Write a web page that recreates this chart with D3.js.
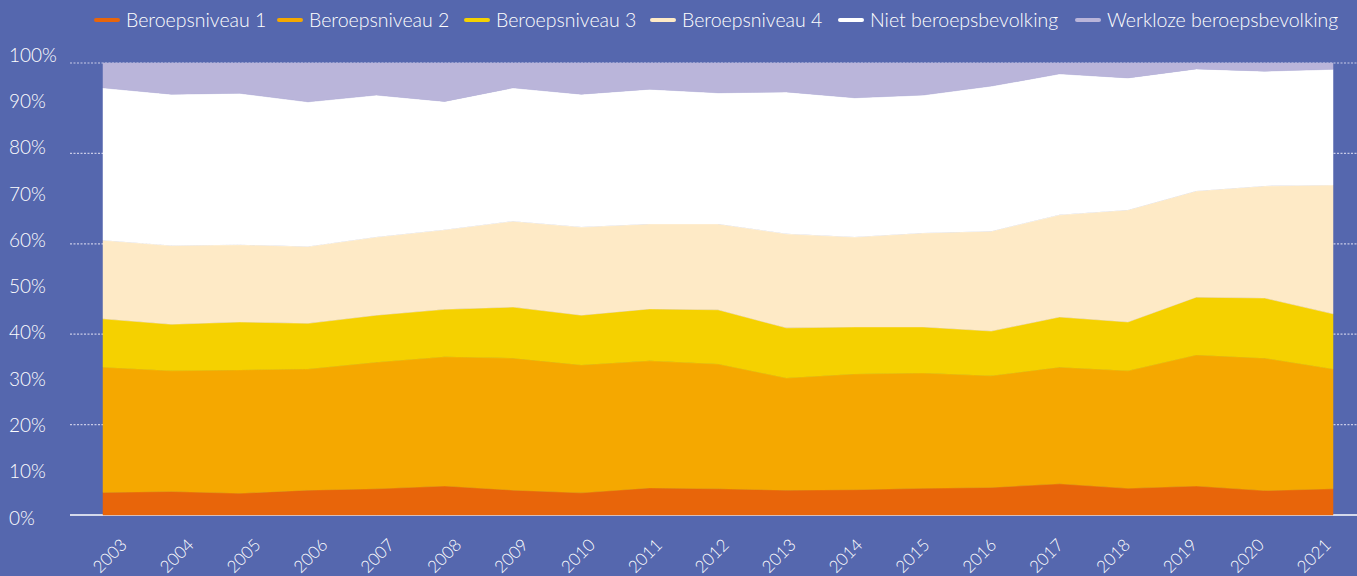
<!DOCTYPE html>
<html>
<head>
<meta charset="utf-8">
<script src="https://cdn.jsdelivr.net/npm/d3@7"></script>
<style>
  html, body { margin: 0; padding: 0; background: #5567ae; }
  svg { display: block; }
  text { font-family: Lato, "Noto Sans", sans-serif; font-weight: 300; fill: #fff; }
</style>
</head>
<body>
<script>
var years = [2003, 2004, 2005, 2006, 2007, 2008, 2009, 2010, 2011, 2012, 2013, 2014, 2015, 2016, 2017, 2018, 2019, 2020, 2021];

var seriesNames = ['Beroepsniveau 1', 'Beroepsniveau 2', 'Beroepsniveau 3', 'Beroepsniveau 4', 'Niet beroepsbevolking', 'Werkloze beroepsbevolking'];
var seriesColors = ['#e8650a', '#f5a800', '#f5d100', '#feeac6', '#ffffff', '#bab5da'];

var niveau1 = [5.0, 5.2, 4.8, 5.5, 5.8, 6.4, 5.5, 4.9, 6.0, 5.8, 5.5, 5.6, 5.9, 6.1, 6.9, 5.9, 6.4, 5.4, 5.8];
var niveau2 = [27.7, 26.7, 27.3, 26.8, 28.0, 28.6, 29.2, 28.3, 28.1, 27.6, 24.8, 25.6, 25.5, 24.7, 25.8, 26.0, 29.0, 29.3, 26.5];
var niveau3 = [10.7, 10.3, 10.6, 10.1, 10.4, 10.5, 11.3, 11.0, 11.5, 12.0, 11.1, 10.4, 10.2, 9.9, 11.1, 10.8, 12.8, 13.3, 12.2];
var niveau4 = [17.4, 17.4, 17.1, 17.0, 17.3, 17.6, 19.0, 19.5, 18.8, 19.0, 20.8, 19.9, 20.8, 22.1, 22.6, 24.8, 23.5, 24.8, 28.5];
var nietBeroeps = [33.7, 33.5, 33.5, 32.0, 31.4, 28.4, 29.5, 29.4, 29.8, 29.0, 31.4, 30.8, 30.5, 32.1, 31.2, 29.2, 27.0, 25.4, 25.6];
var werkloos = [5.5, 6.9, 6.7, 8.6, 7.1, 8.5, 5.5, 6.9, 5.8, 6.6, 6.4, 7.7, 7.1, 5.1, 2.4, 3.3, 1.3, 1.8, 1.4];

var yTicks = [0, 10, 20, 30, 40, 50, 60, 70, 80, 90, 100];
var gridTicks = [20, 40, 60, 80, 100];

var allSeries = [niveau1, niveau2, niveau3, niveau4, nietBeroeps, werkloos];
var table = years.map(function (y, i) {
	var row = { year: y };
	seriesNames.forEach(function (n, k) { row[n] = allSeries[k][i]; });
	return row;
});

var width = 1357, height = 576;
var svg = d3.select('body').append('svg').attr('width', width).attr('height', height);

var x = d3.scaleLinear().domain([2003, 2021]).range([103, 1333]);
var y = d3.scaleLinear().domain([0, 100]).range([515, 63]);
// year labels are spread a bit tighter than the data points
var xLabel = d3.scaleLinear().domain([2003, 2021]).range([128, 1332]);

// gridlines
svg.append('g').selectAll('line').data(gridTicks).enter().append('line')
	.attr('x1', 70).attr('x2', width)
	.attr('y1', function (d) { return y(d); }).attr('y2', function (d) { return y(d); })
	.attr('stroke', '#c9cbe8').attr('stroke-width', 1.2).attr('stroke-dasharray', '2,1.5');

svg.append('line')
	.attr('x1', 70).attr('x2', width).attr('y1', y(0)).attr('y2', y(0))
	.attr('stroke', '#fff').attr('stroke-width', 1.5);

var stack = d3.stack().keys(seriesNames);
var layers = stack(table);

var area = d3.area()
	.x(function (d) { return x(d.data.year); })
	.y0(function (d) { return y(d[0]); })
	.y1(function (d) { return y(d[1]); });

svg.append('g').selectAll('path').data(layers).enter().append('path')
	.attr('fill', function (d, i) { return seriesColors[i]; })
	.attr('stroke', function (d, i) { return seriesColors[i]; })
	.attr('stroke-width', 0.5)
	.attr('d', area);

// y labels
svg.append('g').selectAll('text').data(yTicks).enter().append('text')
	.attr('x', 9)
	.attr('y', function (d) { return y(d) + 3 - d * 0.11; })
	.attr('dy', '0.35em')
	.style('font-size', '19px')
	.text(function (d) { return d + '%'; });

// x labels
svg.append('g').selectAll('text').data(years).enter().append('text')
	.attr('transform', function (d) { return 'translate(' + xLabel(d) + ',' + 546 + ') rotate(-45)'; })
	.attr('text-anchor', 'end')
	.style('font-size', '17px')
	.text(function (d) { return d; });

// legend
var legendX = [96, 279, 466, 652, 840, 1077];
var legend = svg.append('g').selectAll('g').data(seriesNames).enter().append('g')
	.attr('transform', function (d, i) { return 'translate(' + legendX[i] + ',20)'; });
legend.append('line')
	.attr('x1', 0).attr('x2', 22).attr('y1', 0).attr('y2', 0)
	.attr('stroke', function (d, i) { return seriesColors[i]; })
	.attr('stroke-width', 4).attr('stroke-linecap', 'round');
legend.append('text')
	.attr('x', 30).attr('dy', '0.35em')
	.style('font-size', '19.5px')
	.text(function (d) { return d; });
</script>
</body>
</html>
